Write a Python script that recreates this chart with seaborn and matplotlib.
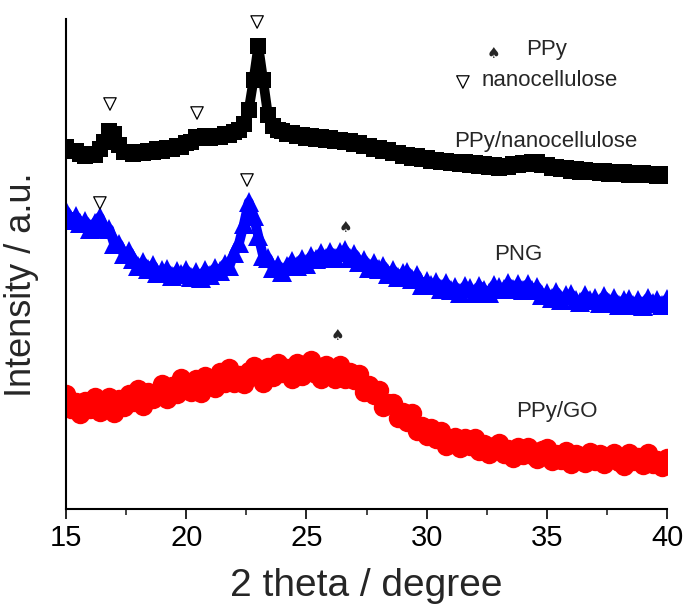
import numpy as np
import matplotlib
matplotlib.use("Agg")
import matplotlib.pyplot as plt
import seaborn as sns

# 2 theta grid (deg) and intensities (a.u.), curves offset vertically
two_theta = np.linspace(15, 40, 126)

ppy_nanocellulose = [
    362, 358, 358, 355, 353, 355, 354, 360, 367, 378,
    375, 364, 357, 357, 355, 357, 356, 358, 357, 360,
    358, 361, 360, 363, 362, 366, 367, 372, 371, 373,
    371, 373, 372, 375, 374, 377, 379, 385, 399, 429,
    463, 429, 394, 383, 379, 378, 375, 376, 373, 374,
    371, 373, 370, 372, 369, 371, 368, 369, 367, 368,
    365, 366, 363, 363, 360, 361, 358, 359, 356, 356,
    353, 354, 351, 353, 350, 351, 348, 349, 347, 348,
    346, 347, 345, 347, 344, 346, 343, 345, 342, 344,
    341, 343, 342, 345, 344, 346, 345, 347, 347, 344,
    344, 341, 342, 340, 341, 338, 340, 337, 339, 337,
    338, 336, 338, 335, 337, 335, 337, 334, 336, 334,
    336, 334, 335, 333, 335, 333,
]

png = [
    298, 289, 293, 286, 288, 280, 286, 292, 281, 280,
    265, 265, 255, 258, 250, 243, 247, 240, 244, 236,
    239, 240, 233, 238, 235, 239, 232, 237, 231, 239,
    234, 241, 238, 245, 243, 256, 266, 285, 307, 293,
    273, 253, 251, 241, 244, 237, 243, 248, 243, 250,
    245, 253, 250, 256, 251, 257, 251, 257, 259, 251,
    255, 247, 249, 241, 246, 240, 243, 235, 239, 232,
    236, 237, 230, 234, 224, 228, 224, 227, 220, 226,
    219, 222, 216, 223, 221, 216, 223, 219, 216, 224,
    222, 220, 226, 220, 225, 219, 225, 219, 222, 214,
    216, 211, 217, 209, 214, 215, 209, 207, 214, 209,
    211, 206, 213, 206, 211, 204, 209, 210, 204, 209,
    203, 211, 206, 209, 204, 210,
]

ppy_go = [
    115, 100, 107, 95, 108, 100, 112, 97, 105, 112,
    96, 110, 102, 115, 107, 120, 103, 117, 110, 117,
    125, 110, 123, 115, 131, 122, 117, 130, 116, 133,
    130, 121, 137, 126, 141, 126, 134, 125, 138, 143,
    132, 126, 142, 132, 146, 136, 141, 130, 146, 133,
    140, 149, 135, 130, 144, 140, 130, 144, 130, 137,
    129, 135, 117, 124, 114, 119, 102, 106, 106, 91,
    97, 87, 96, 78, 83, 73, 81, 70, 78, 63,
    70, 72, 61, 71, 63, 71, 58, 65, 55, 63,
    66, 55, 60, 51, 62, 54, 62, 54, 50, 59,
    61, 48, 55, 49, 58, 45, 55, 53, 46, 57,
    48, 55, 45, 53, 56, 47, 43, 56, 48, 52,
    44, 56, 45, 49, 42, 51,
]

curve_labels = ["PPy/nanocellulose", "PNG", "PPy/GO"]
curve_label_x = [34.97, 33.8, 35.42]
curve_label_y = [367, 255, 98]

# peak markers: nanocellulose (open triangles) and PPy (spades)
nano_peak_x = [16.83, 20.45, 22.95, 16.41, 22.53]
nano_peak_y = [405, 396, 487, 306, 329]
ppy_peak_x = [26.61, 26.31]
ppy_peak_y = [281, 174]

sns.set_theme(style="ticks")
plt.rcParams["font.family"] = ["Liberation Sans", "DejaVu Sans"]

fig = plt.figure(figsize=(6.84, 6.06), dpi=100)
ax = fig.add_axes([66 / 684, 97 / 606, 601 / 684, 490 / 606])

sns.lineplot(x=two_theta, y=ppy_nanocellulose, ax=ax, color="black", marker="s",
             markersize=11, markeredgewidth=0, linewidth=7, sort=False)
sns.lineplot(x=two_theta, y=png, ax=ax, color="#0000ff", marker="^",
             markersize=14, markeredgewidth=0, linewidth=7, sort=False)
sns.lineplot(x=two_theta, y=ppy_go, ax=ax, color="#ff0000", marker="o",
             markersize=14, markeredgewidth=0, linewidth=0, sort=False)

for lab, lx, ly in zip(curve_labels, curve_label_x, curve_label_y):
    ax.text(lx, ly, lab, fontsize=16, ha="center", va="center")

ax.scatter(nano_peak_x, nano_peak_y, marker="v", s=80, facecolors="none",
           edgecolors="black", linewidths=0.9, zorder=5, clip_on=False)
for px, py in zip(ppy_peak_x, ppy_peak_y):
    ax.text(px, py, "\u2660", fontsize=11, ha="center", va="center",
            family=["DejaVu Sans"])

# key in the upper right
ax.text(32.76, 456, "\u2660", fontsize=11, ha="center", va="center", family=["DejaVu Sans"])
ax.text(35.01, 459, "PPy", fontsize=16, ha="center", va="center")
ax.scatter([31.51], [427], marker="v", s=80, facecolors="none",
           edgecolors="black", linewidths=0.9)
ax.text(35.13, 429, "nanocellulose", fontsize=16, ha="center", va="center")

ax.set_xlim(15, 40)
ax.set_ylim(0, 490)
ax.set_xticks([15, 20, 25, 30, 35, 40])
ax.set_xticks([17.5, 22.5, 27.5, 32.5, 37.5], minor=True)
ax.set_yticks([])
ax.tick_params(axis="x", which="major", direction="out", length=7, width=1.2,
               labelsize=21, pad=4, colors="black")
ax.tick_params(axis="x", which="minor", direction="out", length=4, width=1.2)
sns.despine(ax=ax)
for s in ["left", "bottom"]:
    ax.spines[s].set_linewidth(1.5)
    ax.spines[s].set_color("black")

ax.set_xlabel("2 theta / degree", fontsize=28, labelpad=11)
ax.set_ylabel("Intensity / a.u.", fontsize=26)
ax.yaxis.set_label_coords(-0.045, 0.457)

plt.savefig("out.png", dpi=100)
